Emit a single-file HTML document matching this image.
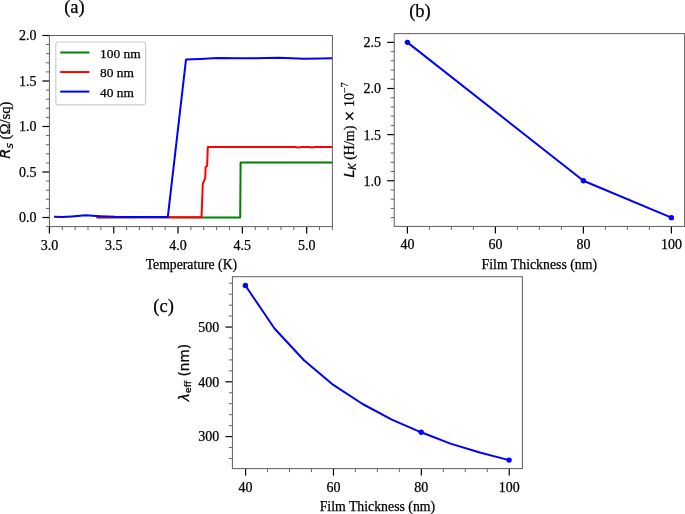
<!DOCTYPE html><html><head><meta charset="utf-8"><title>Figure</title><style>html,body{margin:0;padding:0;background:#fff;}svg{display:block;}text{stroke:#000;stroke-width:0.25px;}</style></head><body>
<svg width="685" height="514" viewBox="0 0 685 514">
<rect width="685" height="514" fill="#fff"/>
<text x="74.4" y="13.2" text-anchor="middle" font-family="'Liberation Serif', 'Times New Roman', serif" font-size="18.5">(a)</text>
<text x="420" y="16.7" text-anchor="middle" font-family="'Liberation Serif', 'Times New Roman', serif" font-size="18.5">(b)</text>
<text x="163.6" y="312.3" text-anchor="middle" font-family="'Liberation Serif', 'Times New Roman', serif" font-size="18.5">(c)</text>
<g>
<clipPath id="ca"><rect x="49.4" y="35.5" width="283.0" height="191.1"/></clipPath>
<g clip-path="url(#ca)">
<polyline points="96.5,217.4 150.0,217.3 200.0,217.5 240.2,217.5 240.6,162.6 260.0,162.6 300.0,162.5 332.4,162.6" fill="none" stroke="#008000" stroke-width="2.0" stroke-linejoin="round" stroke-linecap="butt"/>
<polyline points="96.5,217.3 150.0,217.2 201.5,217.2 202.8,183.6 204.0,181.2 205.3,177.4 205.6,167.2 207.1,165.7 207.8,147.1 240.0,147.1 295.0,147.1 298.0,147.5 302.0,147.1 309.0,147.1 312.0,147.5 315.0,147.1 333.0,147.1" fill="none" stroke="#ff0000" stroke-width="2.0" stroke-linejoin="round" stroke-linecap="butt"/>
<polyline points="54.1,216.7 62.0,217.1 72.0,216.4 85.4,215.3 100.0,216.2 115.0,216.8 130.0,216.9 150.0,217.0 167.8,217.1 186.0,59.6 200.0,58.9 217.4,58.1 238.4,58.3 255.0,58.2 278.4,57.8 304.0,58.8 320.0,58.5 332.4,58.3" fill="none" stroke="#0000ff" stroke-width="2.0" stroke-linejoin="round" stroke-linecap="butt"/>
</g>
<line x1="62.26" y1="226.6" x2="62.26" y2="230.1" stroke="#555" stroke-width="0.9"/>
<line x1="75.13" y1="226.6" x2="75.13" y2="230.1" stroke="#555" stroke-width="0.9"/>
<line x1="87.99" y1="226.6" x2="87.99" y2="230.1" stroke="#555" stroke-width="0.9"/>
<line x1="100.85" y1="226.6" x2="100.85" y2="230.1" stroke="#555" stroke-width="0.9"/>
<line x1="126.58" y1="226.6" x2="126.58" y2="230.1" stroke="#555" stroke-width="0.9"/>
<line x1="139.45" y1="226.6" x2="139.45" y2="230.1" stroke="#555" stroke-width="0.9"/>
<line x1="152.31" y1="226.6" x2="152.31" y2="230.1" stroke="#555" stroke-width="0.9"/>
<line x1="165.17" y1="226.6" x2="165.17" y2="230.1" stroke="#555" stroke-width="0.9"/>
<line x1="190.90" y1="226.6" x2="190.90" y2="230.1" stroke="#555" stroke-width="0.9"/>
<line x1="203.76" y1="226.6" x2="203.76" y2="230.1" stroke="#555" stroke-width="0.9"/>
<line x1="216.63" y1="226.6" x2="216.63" y2="230.1" stroke="#555" stroke-width="0.9"/>
<line x1="229.49" y1="226.6" x2="229.49" y2="230.1" stroke="#555" stroke-width="0.9"/>
<line x1="255.22" y1="226.6" x2="255.22" y2="230.1" stroke="#555" stroke-width="0.9"/>
<line x1="268.08" y1="226.6" x2="268.08" y2="230.1" stroke="#555" stroke-width="0.9"/>
<line x1="280.95" y1="226.6" x2="280.95" y2="230.1" stroke="#555" stroke-width="0.9"/>
<line x1="293.81" y1="226.6" x2="293.81" y2="230.1" stroke="#555" stroke-width="0.9"/>
<line x1="319.54" y1="226.6" x2="319.54" y2="230.1" stroke="#555" stroke-width="0.9"/>
<line x1="332.40" y1="226.6" x2="332.40" y2="230.1" stroke="#555" stroke-width="0.9"/>
<line x1="45.9" y1="226.60" x2="49.4" y2="226.60" stroke="#555" stroke-width="0.9"/>
<line x1="45.9" y1="208.40" x2="49.4" y2="208.40" stroke="#555" stroke-width="0.9"/>
<line x1="45.9" y1="199.30" x2="49.4" y2="199.30" stroke="#555" stroke-width="0.9"/>
<line x1="45.9" y1="190.20" x2="49.4" y2="190.20" stroke="#555" stroke-width="0.9"/>
<line x1="45.9" y1="181.10" x2="49.4" y2="181.10" stroke="#555" stroke-width="0.9"/>
<line x1="45.9" y1="162.90" x2="49.4" y2="162.90" stroke="#555" stroke-width="0.9"/>
<line x1="45.9" y1="153.80" x2="49.4" y2="153.80" stroke="#555" stroke-width="0.9"/>
<line x1="45.9" y1="144.70" x2="49.4" y2="144.70" stroke="#555" stroke-width="0.9"/>
<line x1="45.9" y1="135.60" x2="49.4" y2="135.60" stroke="#555" stroke-width="0.9"/>
<line x1="45.9" y1="117.40" x2="49.4" y2="117.40" stroke="#555" stroke-width="0.9"/>
<line x1="45.9" y1="108.30" x2="49.4" y2="108.30" stroke="#555" stroke-width="0.9"/>
<line x1="45.9" y1="99.20" x2="49.4" y2="99.20" stroke="#555" stroke-width="0.9"/>
<line x1="45.9" y1="90.10" x2="49.4" y2="90.10" stroke="#555" stroke-width="0.9"/>
<line x1="45.9" y1="71.90" x2="49.4" y2="71.90" stroke="#555" stroke-width="0.9"/>
<line x1="45.9" y1="62.80" x2="49.4" y2="62.80" stroke="#555" stroke-width="0.9"/>
<line x1="45.9" y1="53.70" x2="49.4" y2="53.70" stroke="#555" stroke-width="0.9"/>
<line x1="45.9" y1="44.60" x2="49.4" y2="44.60" stroke="#555" stroke-width="0.9"/>
<line x1="49.40" y1="226.6" x2="49.40" y2="233.6" stroke="#000" stroke-width="1.2"/>
<text x="49.40" y="249.6" text-anchor="middle" font-family="'Liberation Serif', 'Times New Roman', serif" font-size="14.0">3.0</text>
<line x1="113.72" y1="226.6" x2="113.72" y2="233.6" stroke="#000" stroke-width="1.2"/>
<text x="113.72" y="249.6" text-anchor="middle" font-family="'Liberation Serif', 'Times New Roman', serif" font-size="14.0">3.5</text>
<line x1="178.04" y1="226.6" x2="178.04" y2="233.6" stroke="#000" stroke-width="1.2"/>
<text x="178.04" y="249.6" text-anchor="middle" font-family="'Liberation Serif', 'Times New Roman', serif" font-size="14.0">4.0</text>
<line x1="242.35" y1="226.6" x2="242.35" y2="233.6" stroke="#000" stroke-width="1.2"/>
<text x="242.35" y="249.6" text-anchor="middle" font-family="'Liberation Serif', 'Times New Roman', serif" font-size="14.0">4.5</text>
<line x1="306.67" y1="226.6" x2="306.67" y2="233.6" stroke="#000" stroke-width="1.2"/>
<text x="306.67" y="249.6" text-anchor="middle" font-family="'Liberation Serif', 'Times New Roman', serif" font-size="14.0">5.0</text>
<line x1="42.4" y1="217.50" x2="49.4" y2="217.50" stroke="#000" stroke-width="1.2"/>
<text x="36.5" y="222.40" text-anchor="end" font-family="'Liberation Serif', 'Times New Roman', serif" font-size="14.0">0.0</text>
<line x1="42.4" y1="172.00" x2="49.4" y2="172.00" stroke="#000" stroke-width="1.2"/>
<text x="36.5" y="176.90" text-anchor="end" font-family="'Liberation Serif', 'Times New Roman', serif" font-size="14.0">0.5</text>
<line x1="42.4" y1="126.50" x2="49.4" y2="126.50" stroke="#000" stroke-width="1.2"/>
<text x="36.5" y="131.40" text-anchor="end" font-family="'Liberation Serif', 'Times New Roman', serif" font-size="14.0">1.0</text>
<line x1="42.4" y1="81.00" x2="49.4" y2="81.00" stroke="#000" stroke-width="1.2"/>
<text x="36.5" y="85.90" text-anchor="end" font-family="'Liberation Serif', 'Times New Roman', serif" font-size="14.0">1.5</text>
<line x1="42.4" y1="35.50" x2="49.4" y2="35.50" stroke="#000" stroke-width="1.2"/>
<text x="36.5" y="40.40" text-anchor="end" font-family="'Liberation Serif', 'Times New Roman', serif" font-size="14.0">2.0</text>
<rect x="49.4" y="35.5" width="283.0" height="191.1" fill="none" stroke="#5f5f5f" stroke-width="1"/>
<rect x="55.8" y="42" width="89.8" height="62.8" rx="2.5" fill="#fff" fill-opacity="0.8" stroke="#cccccc" stroke-width="1.2"/>
<line x1="60.2" y1="52.50" x2="89.4" y2="52.50" stroke="#008000" stroke-width="2"/>
<text x="100" y="57.50" font-family="'Liberation Serif', 'Times New Roman', serif" font-size="13.4">100 nm</text>
<line x1="60.2" y1="72.05" x2="89.4" y2="72.05" stroke="#ff0000" stroke-width="2"/>
<text x="100" y="77.05" font-family="'Liberation Serif', 'Times New Roman', serif" font-size="13.4">80 nm</text>
<line x1="60.2" y1="91.60" x2="89.4" y2="91.60" stroke="#0000ff" stroke-width="2"/>
<text x="100" y="96.60" font-family="'Liberation Serif', 'Times New Roman', serif" font-size="13.4">40 nm</text>
<text x="191.4" y="269" text-anchor="middle" font-family="'Liberation Serif', 'Times New Roman', serif" font-size="13.7">Temperature (K)</text>
<text transform="translate(10.1,130.1) rotate(-90)" text-anchor="middle" font-family="'Liberation Serif', 'Times New Roman', serif" font-size="14.7"><tspan font-family="'DejaVu Sans', 'Liberation Sans', sans-serif" font-style="italic">R</tspan><tspan font-family="'DejaVu Sans', 'Liberation Sans', sans-serif" font-style="italic" font-size="10.3" dy="2.5">s</tspan><tspan dy="-2.5"> (Ω/sq)</tspan></text>
</g>
<g>
<line x1="429.40" y1="226.4" x2="429.40" y2="229.9" stroke="#555" stroke-width="0.9"/>
<line x1="451.40" y1="226.4" x2="451.40" y2="229.9" stroke="#555" stroke-width="0.9"/>
<line x1="473.40" y1="226.4" x2="473.40" y2="229.9" stroke="#555" stroke-width="0.9"/>
<line x1="517.40" y1="226.4" x2="517.40" y2="229.9" stroke="#555" stroke-width="0.9"/>
<line x1="539.40" y1="226.4" x2="539.40" y2="229.9" stroke="#555" stroke-width="0.9"/>
<line x1="561.40" y1="226.4" x2="561.40" y2="229.9" stroke="#555" stroke-width="0.9"/>
<line x1="605.40" y1="226.4" x2="605.40" y2="229.9" stroke="#555" stroke-width="0.9"/>
<line x1="627.40" y1="226.4" x2="627.40" y2="229.9" stroke="#555" stroke-width="0.9"/>
<line x1="649.40" y1="226.4" x2="649.40" y2="229.9" stroke="#555" stroke-width="0.9"/>
<line x1="390.7" y1="217.64" x2="394.2" y2="217.64" stroke="#555" stroke-width="0.9"/>
<line x1="390.7" y1="208.41" x2="394.2" y2="208.41" stroke="#555" stroke-width="0.9"/>
<line x1="390.7" y1="199.19" x2="394.2" y2="199.19" stroke="#555" stroke-width="0.9"/>
<line x1="390.7" y1="189.96" x2="394.2" y2="189.96" stroke="#555" stroke-width="0.9"/>
<line x1="390.7" y1="171.51" x2="394.2" y2="171.51" stroke="#555" stroke-width="0.9"/>
<line x1="390.7" y1="162.29" x2="394.2" y2="162.29" stroke="#555" stroke-width="0.9"/>
<line x1="390.7" y1="153.06" x2="394.2" y2="153.06" stroke="#555" stroke-width="0.9"/>
<line x1="390.7" y1="143.84" x2="394.2" y2="143.84" stroke="#555" stroke-width="0.9"/>
<line x1="390.7" y1="125.39" x2="394.2" y2="125.39" stroke="#555" stroke-width="0.9"/>
<line x1="390.7" y1="116.16" x2="394.2" y2="116.16" stroke="#555" stroke-width="0.9"/>
<line x1="390.7" y1="106.94" x2="394.2" y2="106.94" stroke="#555" stroke-width="0.9"/>
<line x1="390.7" y1="97.71" x2="394.2" y2="97.71" stroke="#555" stroke-width="0.9"/>
<line x1="390.7" y1="79.26" x2="394.2" y2="79.26" stroke="#555" stroke-width="0.9"/>
<line x1="390.7" y1="70.04" x2="394.2" y2="70.04" stroke="#555" stroke-width="0.9"/>
<line x1="390.7" y1="60.81" x2="394.2" y2="60.81" stroke="#555" stroke-width="0.9"/>
<line x1="390.7" y1="51.59" x2="394.2" y2="51.59" stroke="#555" stroke-width="0.9"/>
<line x1="407.40" y1="226.4" x2="407.40" y2="233.4" stroke="#000" stroke-width="1.2"/>
<text x="407.40" y="249.2" text-anchor="middle" font-family="'Liberation Serif', 'Times New Roman', serif" font-size="14.0">40</text>
<line x1="495.40" y1="226.4" x2="495.40" y2="233.4" stroke="#000" stroke-width="1.2"/>
<text x="495.40" y="249.2" text-anchor="middle" font-family="'Liberation Serif', 'Times New Roman', serif" font-size="14.0">60</text>
<line x1="583.40" y1="226.4" x2="583.40" y2="233.4" stroke="#000" stroke-width="1.2"/>
<text x="583.40" y="249.2" text-anchor="middle" font-family="'Liberation Serif', 'Times New Roman', serif" font-size="14.0">80</text>
<line x1="671.40" y1="226.4" x2="671.40" y2="233.4" stroke="#000" stroke-width="1.2"/>
<text x="671.40" y="249.2" text-anchor="middle" font-family="'Liberation Serif', 'Times New Roman', serif" font-size="14.0">100</text>
<line x1="387.2" y1="180.74" x2="394.2" y2="180.74" stroke="#000" stroke-width="1.2"/>
<text x="381" y="185.64" text-anchor="end" font-family="'Liberation Serif', 'Times New Roman', serif" font-size="14.0">1.0</text>
<line x1="387.2" y1="134.61" x2="394.2" y2="134.61" stroke="#000" stroke-width="1.2"/>
<text x="381" y="139.51" text-anchor="end" font-family="'Liberation Serif', 'Times New Roman', serif" font-size="14.0">1.5</text>
<line x1="387.2" y1="88.49" x2="394.2" y2="88.49" stroke="#000" stroke-width="1.2"/>
<text x="381" y="93.39" text-anchor="end" font-family="'Liberation Serif', 'Times New Roman', serif" font-size="14.0">2.0</text>
<line x1="387.2" y1="42.36" x2="394.2" y2="42.36" stroke="#000" stroke-width="1.2"/>
<text x="381" y="47.26" text-anchor="end" font-family="'Liberation Serif', 'Times New Roman', serif" font-size="14.0">2.5</text>
<rect x="394.2" y="33.6" width="290.40000000000003" height="192.8" fill="none" stroke="#5f5f5f" stroke-width="1"/>
<polyline points="407.40,42.36 583.40,180.74 671.40,217.64" fill="none" stroke="#0000ff" stroke-width="2" stroke-linejoin="round"/>
<circle cx="407.40" cy="42.36" r="2.7" fill="#0000ff"/>
<circle cx="583.40" cy="180.74" r="2.7" fill="#0000ff"/>
<circle cx="671.40" cy="217.64" r="2.7" fill="#0000ff"/>
<text x="539.3" y="268.8" text-anchor="middle" font-family="'Liberation Serif', 'Times New Roman', serif" font-size="13.8">Film Thickness (nm)</text>
<text transform="translate(353.5,130) rotate(-90)" text-anchor="middle" font-family="'Liberation Serif', 'Times New Roman', serif" font-size="14.0"><tspan font-family="'DejaVu Sans', 'Liberation Sans', sans-serif" font-style="italic">L</tspan><tspan font-family="'DejaVu Sans', 'Liberation Sans', sans-serif" font-style="italic" font-size="9.8" dy="2.5">K</tspan><tspan dy="-2.5"> (H/m) </tspan><tspan font-family="'DejaVu Sans', 'Liberation Sans', sans-serif">×</tspan><tspan> 10</tspan><tspan font-size="9.8" dy="-6">−7</tspan></text>
</g>
<g>
<line x1="267.55" y1="468.6" x2="267.55" y2="472.1" stroke="#555" stroke-width="0.9"/>
<line x1="289.52" y1="468.6" x2="289.52" y2="472.1" stroke="#555" stroke-width="0.9"/>
<line x1="311.49" y1="468.6" x2="311.49" y2="472.1" stroke="#555" stroke-width="0.9"/>
<line x1="355.43" y1="468.6" x2="355.43" y2="472.1" stroke="#555" stroke-width="0.9"/>
<line x1="377.40" y1="468.6" x2="377.40" y2="472.1" stroke="#555" stroke-width="0.9"/>
<line x1="399.37" y1="468.6" x2="399.37" y2="472.1" stroke="#555" stroke-width="0.9"/>
<line x1="443.31" y1="468.6" x2="443.31" y2="472.1" stroke="#555" stroke-width="0.9"/>
<line x1="465.28" y1="468.6" x2="465.28" y2="472.1" stroke="#555" stroke-width="0.9"/>
<line x1="487.25" y1="468.6" x2="487.25" y2="472.1" stroke="#555" stroke-width="0.9"/>
<line x1="228.9" y1="458.47" x2="232.4" y2="458.47" stroke="#555" stroke-width="0.9"/>
<line x1="228.9" y1="447.52" x2="232.4" y2="447.52" stroke="#555" stroke-width="0.9"/>
<line x1="228.9" y1="425.62" x2="232.4" y2="425.62" stroke="#555" stroke-width="0.9"/>
<line x1="228.9" y1="414.66" x2="232.4" y2="414.66" stroke="#555" stroke-width="0.9"/>
<line x1="228.9" y1="403.71" x2="232.4" y2="403.71" stroke="#555" stroke-width="0.9"/>
<line x1="228.9" y1="392.76" x2="232.4" y2="392.76" stroke="#555" stroke-width="0.9"/>
<line x1="228.9" y1="370.86" x2="232.4" y2="370.86" stroke="#555" stroke-width="0.9"/>
<line x1="228.9" y1="359.91" x2="232.4" y2="359.91" stroke="#555" stroke-width="0.9"/>
<line x1="228.9" y1="348.96" x2="232.4" y2="348.96" stroke="#555" stroke-width="0.9"/>
<line x1="228.9" y1="338.01" x2="232.4" y2="338.01" stroke="#555" stroke-width="0.9"/>
<line x1="228.9" y1="316.10" x2="232.4" y2="316.10" stroke="#555" stroke-width="0.9"/>
<line x1="228.9" y1="305.15" x2="232.4" y2="305.15" stroke="#555" stroke-width="0.9"/>
<line x1="228.9" y1="294.20" x2="232.4" y2="294.20" stroke="#555" stroke-width="0.9"/>
<line x1="228.9" y1="283.25" x2="232.4" y2="283.25" stroke="#555" stroke-width="0.9"/>
<line x1="245.58" y1="468.6" x2="245.58" y2="475.6" stroke="#000" stroke-width="1.2"/>
<text x="245.58" y="491.8" text-anchor="middle" font-family="'Liberation Serif', 'Times New Roman', serif" font-size="14.0">40</text>
<line x1="333.46" y1="468.6" x2="333.46" y2="475.6" stroke="#000" stroke-width="1.2"/>
<text x="333.46" y="491.8" text-anchor="middle" font-family="'Liberation Serif', 'Times New Roman', serif" font-size="14.0">60</text>
<line x1="421.34" y1="468.6" x2="421.34" y2="475.6" stroke="#000" stroke-width="1.2"/>
<text x="421.34" y="491.8" text-anchor="middle" font-family="'Liberation Serif', 'Times New Roman', serif" font-size="14.0">80</text>
<line x1="509.22" y1="468.6" x2="509.22" y2="475.6" stroke="#000" stroke-width="1.2"/>
<text x="509.22" y="491.8" text-anchor="middle" font-family="'Liberation Serif', 'Times New Roman', serif" font-size="14.0">100</text>
<line x1="225.4" y1="436.57" x2="232.4" y2="436.57" stroke="#000" stroke-width="1.2"/>
<text x="219.2" y="441.47" text-anchor="end" font-family="'Liberation Serif', 'Times New Roman', serif" font-size="14.0">300</text>
<line x1="225.4" y1="381.81" x2="232.4" y2="381.81" stroke="#000" stroke-width="1.2"/>
<text x="219.2" y="386.71" text-anchor="end" font-family="'Liberation Serif', 'Times New Roman', serif" font-size="14.0">400</text>
<line x1="225.4" y1="327.05" x2="232.4" y2="327.05" stroke="#000" stroke-width="1.2"/>
<text x="219.2" y="331.95" text-anchor="end" font-family="'Liberation Serif', 'Times New Roman', serif" font-size="14.0">500</text>
<rect x="232.4" y="276.7" width="290.0" height="191.90000000000003" fill="none" stroke="#5f5f5f" stroke-width="1"/>
<polyline points="245.40,285.50 274.70,328.80 304.00,360.30 333.30,384.90 362.60,404.00 391.80,419.60 421.20,432.30 450.50,443.60 479.80,452.50 509.10,460.10" fill="none" stroke="#0000ff" stroke-width="2" stroke-linejoin="round"/>
<circle cx="245.40" cy="285.50" r="2.7" fill="#0000ff"/>
<circle cx="421.20" cy="432.30" r="2.7" fill="#0000ff"/>
<circle cx="509.10" cy="460.10" r="2.7" fill="#0000ff"/>
<text x="377.4" y="510.9" text-anchor="middle" font-family="'Liberation Serif', 'Times New Roman', serif" font-size="13.8">Film Thickness (nm)</text>
<text transform="translate(188.6,372.6) rotate(-90)" text-anchor="middle" font-family="'DejaVu Sans', 'Liberation Sans', sans-serif" font-size="13.6"><tspan font-style="italic">λ</tspan><tspan font-size="9.5" dy="2.5">eff</tspan><tspan dy="-2.5"> (nm)</tspan></text>
</g>
</svg></body></html>
